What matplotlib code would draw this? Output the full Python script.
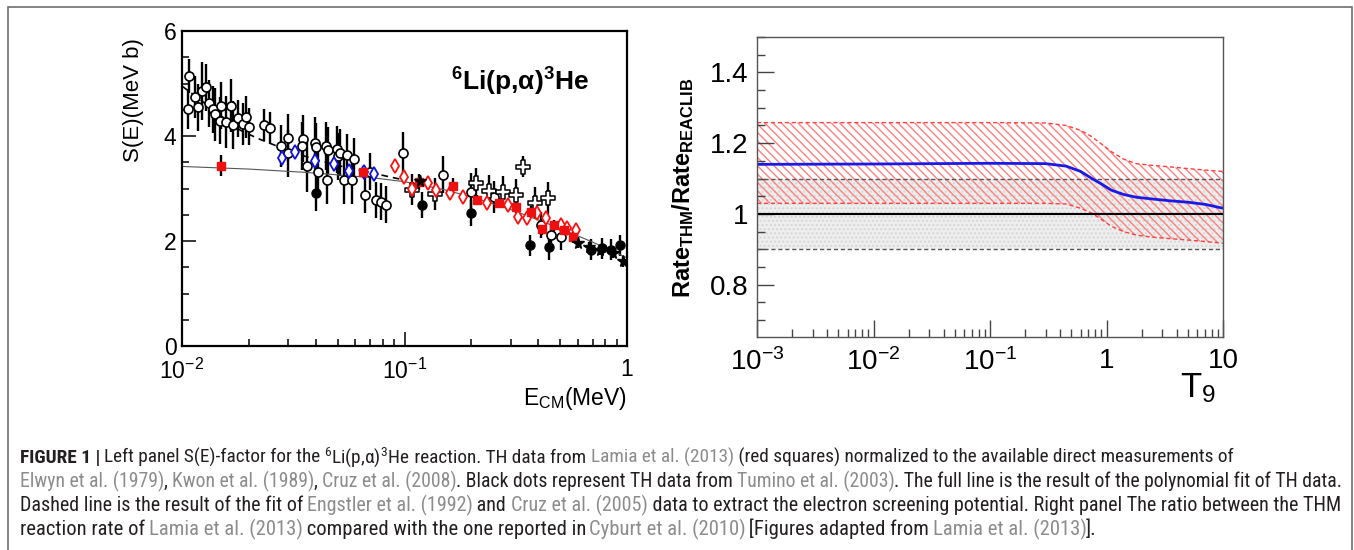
import matplotlib
matplotlib.use("Agg")
import matplotlib.pyplot as plt
from matplotlib import font_manager
from matplotlib.path import Path
from matplotlib.patches import Rectangle
from matplotlib.ticker import LogLocator, NullFormatter, MultipleLocator

plt.rcParams['font.family'] = ['Liberation Sans', 'DejaVu Sans']
plt.rcParams['mathtext.default'] = 'regular'
plt.rcParams['mathtext.fontset'] = 'custom'
plt.rcParams['mathtext.rm'] = 'Liberation Sans'
plt.rcParams['mathtext.it'] = 'Liberation Sans:italic'
plt.rcParams['mathtext.bf'] = 'Liberation Sans:bold'
plt.rcParams['hatch.linewidth'] = 1.0

# ---------------- left panel data: S(E) for 6Li(p,a)3He ----------------
# open circles (direct data)
e_open = [0.0106, 0.0108, 0.01144, 0.01185, 0.01235, 0.01282, 0.01319, 0.01384, 0.01409,
          0.01494, 0.01483, 0.01578, 0.01663, 0.01703, 0.01794, 0.01889, 0.01936, 0.02004,
          0.0234, 0.0249, 0.0278, 0.0299, 0.0300, 0.0348, 0.0347, 0.0365, 0.0398, 0.0400,
          0.0407, 0.0443, 0.0454, 0.0450, 0.0498, 0.0500, 0.0515, 0.0533, 0.0552, 0.0581,
          0.0595, 0.0663, 0.0698, 0.0743, 0.0787, 0.0829, 0.0983, 0.1486, 0.1996, 0.2525,
          0.41, 0.455, 0.505]
s_open = [4.51, 5.14, 4.74, 4.55, 4.86, 4.93, 4.62, 4.51, 4.41,
          4.58, 4.29, 4.27, 4.58, 4.21, 4.34, 4.22, 4.37, 4.18,
          4.21, 4.15, 3.81, 3.97, 3.67, 3.95, 3.81, 3.43, 3.87, 3.80,
          3.31, 3.81, 3.73, 3.16, 3.75, 3.61, 3.68, 3.16, 3.64, 3.16,
          3.57, 2.88, 3.32, 2.78, 2.75, 2.69, 3.67, 3.26, 2.94, 2.84,
          2.30, 2.11, 2.07]
d_open = [0.38, 0.33, 0.40, 0.45, 0.55, 0.45, 0.45, 0.45, 0.50,
          0.45, 0.45, 0.50, 0.50, 0.45, 0.35, 0.40, 0.40, 0.35,
          0.30, 0.30, 0.40, 0.45, 0.45, 0.45, 0.45, 0.50, 0.50, 0.45,
          0.45, 0.45, 0.45, 0.45, 0.45, 0.45, 0.45, 0.45, 0.40, 0.45,
          0.40, 0.35, 0.35, 0.35, 0.35, 0.35, 0.40, 0.35, 0.35, 0.30,
          0.25, 0.25, 0.25]

# black dots (Tumino 2003 TH data)
e_tum = [0.0402, 0.120, 0.1996, 0.3656, 0.447, 0.689, 0.769, 0.847, 0.933]
s_tum = [2.92, 2.69, 2.53, 1.92, 1.89, 1.83, 1.86, 1.83, 1.92]
d_tum = [0.35, 0.25, 0.25, 0.20, 0.25, 0.20, 0.20, 0.20, 0.20]

# red squares (Lamia 2013 TH data)
e_thm = [0.01494, 0.0649, 0.1161, 0.1657, 0.2117, 0.266, 0.316, 0.37, 0.417, 0.471, 0.522, 0.569]
s_thm = [3.43, 3.32, 3.13, 3.05, 2.78, 2.72, 2.64, 2.56, 2.22, 2.30, 2.21, 2.07]
d_thm = [0.20, 0.10, 0.15, 0.15, 0.10, 0.10, 0.10, 0.10, 0.10, 0.10, 0.10, 0.10]

# red open diamonds
e_rdia = [0.0902, 0.0994, 0.1083, 0.1279, 0.138, 0.160, 0.183, 0.2357, 0.293, 0.324,
          0.357, 0.393, 0.432, 0.505, 0.54, 0.589]
s_rdia = [3.43, 3.22, 3.00, 3.10, 2.97, 2.92, 2.84, 2.73, 2.68, 2.46,
          2.43, 2.53, 2.43, 2.30, 2.24, 2.21]
d_rdia = [0.12, 0.12, 0.12, 0.10, 0.10, 0.10, 0.10, 0.10, 0.10, 0.10,
          0.10, 0.10, 0.10, 0.10, 0.10, 0.10]

# blue open diamonds
e_bdia = [0.0281, 0.0323, 0.0397, 0.0481, 0.0561, 0.0656, 0.0733]
s_bdia = [3.59, 3.69, 3.53, 3.47, 3.34, 3.32, 3.28]
d_bdia = [0.12, 0.10, 0.12, 0.12, 0.12, 0.10, 0.10]

# open crosses
e_cross = [0.108, 0.137, 0.209, 0.241, 0.278, 0.316, 0.341, 0.385, 0.44]
s_cross = [2.98, 2.90, 3.10, 2.96, 2.94, 2.88, 3.41, 2.72, 2.82]
d_cross = [0.30, 0.30, 0.30, 0.30, 0.30, 0.30, 0.20, 0.30, 0.30]

# stars
e_star = [0.117, 0.60, 0.676, 0.76, 0.863, 0.956]
s_star = [3.14, 1.97, 1.89, 1.83, 1.77, 1.61]
d_star = [0.12, 0.10, 0.10, 0.10, 0.10, 0.10]

# polynomial fit of TH data (full line) and screening fit (dashed)
e_fit = [0.01, 0.02, 0.035, 0.05, 0.07, 0.1, 0.15, 0.2, 0.3, 0.4, 0.5, 0.7, 1.0]
s_fit = [3.42, 3.37, 3.31, 3.26, 3.21, 3.13, 2.98, 2.84, 2.60, 2.40, 2.24, 1.98, 1.68]
e_scr = [0.01, 0.012, 0.015, 0.0183, 0.022, 0.027, 0.033, 0.04, 0.05, 0.065, 0.08, 0.1]
s_scr = [4.95, 4.70, 4.38, 4.11, 3.95, 3.80, 3.66, 3.55, 3.44, 3.33, 3.25, 3.16]

# ---------------- right panel data: rate ratio vs T9 ----------------
t9 = [0.001, 0.01, 0.1, 0.3, 0.45, 0.6, 0.75, 0.9, 1.1, 1.4, 1.8, 2.5, 3.5, 5, 7, 10]
ratio_hi = [1.258, 1.258, 1.258, 1.257, 1.250, 1.236, 1.218, 1.198, 1.176, 1.155, 1.142,
            1.137, 1.133, 1.128, 1.124, 1.120]
ratio_lo = [1.030, 1.030, 1.030, 1.030, 1.028, 1.016, 1.002, 0.985, 0.965, 0.950, 0.940,
            0.934, 0.930, 0.926, 0.922, 0.917]
ratio = [1.140, 1.141, 1.143, 1.142, 1.135, 1.120, 1.100, 1.085, 1.067, 1.055, 1.047,
         1.042, 1.037, 1.033, 1.027, 1.016]
t9_edges = [0.001, 10]
reaclib_lo, reaclib_hi = 0.9, 1.1

W, H = 1354, 550
fig = plt.figure(figsize=(W / 100, H / 100), dpi=100)
fig.patch.set_facecolor('white')

# ------------- left panel -------------
axL = fig.add_axes([182 / W, 1 - 346 / H, 445 / W, 315 / H])
axL.set_xscale('log')

err_kw = dict(ecolor='k', elinewidth=1.7, capsize=0, linestyle='none')
axL.errorbar(e_open, s_open, yerr=d_open, marker='o', ms=6.5, mfc='white', mec='k', mew=1.2, **err_kw)

plus = Path([(-0.3, 1), (0.3, 1), (0.3, 0.3), (1, 0.3), (1, -0.3), (0.3, -0.3), (0.3, -1),
             (-0.3, -1), (-0.3, -0.3), (-1, -0.3), (-1, 0.3), (-0.3, 0.3), (-0.3, 1)])
axL.errorbar(e_cross, s_cross, yerr=d_cross, marker=plus, ms=9.5, mfc='white', mec='k', mew=1.1, **err_kw)
axL.errorbar(e_bdia, s_bdia, yerr=d_bdia, marker='d', ms=7.5, mfc='white', mec='#1010e0', mew=1.3, **err_kw)
axL.errorbar(e_rdia, s_rdia, yerr=d_rdia, marker='d', ms=7.5, mfc='white', mec='#ff1010', mew=1.3, **err_kw)
axL.errorbar(e_tum, s_tum, yerr=d_tum, marker='o', ms=6.5, mfc='k', mec='k', **err_kw)
axL.errorbar(e_thm, s_thm, yerr=d_thm, marker='s', ms=6, mfc='#ee1010', mec='#ee1010', **err_kw)
axL.errorbar(e_star, s_star, yerr=d_star, marker='*', ms=8.5, mfc='k', mec='k', **err_kw)

axL.plot(e_fit, s_fit, color='#555555', lw=0.8)
axL.plot(e_scr, s_scr, color='k', lw=1.2, dashes=(4, 3))

axL.set_xlim(0.01, 1)
axL.set_ylim(0, 6)
axL.set_yticks([0, 2, 4, 6])
axL.yaxis.set_minor_locator(MultipleLocator(0.5))
axL.set_xticks([0.01, 0.1, 1])
axL.set_xticklabels([r'$10^{-2}$', r'$10^{-1}$', '1'])
axL.xaxis.set_minor_locator(LogLocator(base=10, subs=range(2, 10)))
axL.xaxis.set_minor_formatter(NullFormatter())
axL.tick_params(which='both', direction='in', top=False, right=False, width=1.1, labelsize=16.5)
axL.tick_params(which='major', length=10)
axL.tick_params(which='minor', length=5)
axL.tick_params(axis='y', pad=4)
axL.tick_params(axis='x', pad=9)
for sp in axL.spines.values():
    sp.set_linewidth(1.6)

axL.text(0.76, 0.84, r'$^{6}$Li(p,α)$^{3}$He', transform=axL.transAxes, fontsize=19,
         fontweight='bold', ha='center', va='center')
fig.text(133 / W, 1 - 100 / H, 'S(E)(MeV b)', rotation=90, fontsize=16, ha='center', va='center')
fig.text(627 / W, 1 - 398 / H, r'E$_{CM}$(MeV)', fontsize=16.5, ha='right', va='center')

# ------------- right panel -------------
axR = fig.add_axes([757 / W, 1 - 337 / H, 466 / W, 300 / H])
axR.set_xscale('log')
axR.fill_between(t9_edges, reaclib_lo, reaclib_hi, facecolor='#eeeeee', edgecolor='#d6d6d6',
                 hatch='....', lw=0)
axR.fill_between(t9, ratio_lo, ratio_hi, facecolor='none', edgecolor='#ff8080',
                 hatch='\\' * 4, lw=0)
axR.plot(t9_edges, [reaclib_lo] * 2, color='#555555', lw=1, dashes=(3, 2))
axR.plot(t9_edges, [reaclib_hi] * 2, color='#555555', lw=1, dashes=(3, 2))
axR.plot(t9, ratio_hi, color='#ff4040', lw=1, dashes=(3, 2))
axR.plot(t9, ratio_lo, color='#ff4040', lw=1, dashes=(3, 2))
axR.plot(t9_edges, [1, 1], color='k', lw=1.5)
axR.plot(t9, ratio, color='#1a1ae6', lw=2)

axR.set_xlim(1e-3, 10)
axR.set_ylim(0.652, 1.5)
axR.set_yticks([0.8, 1.0, 1.2, 1.4])
axR.set_yticklabels(['0.8', '1', '1.2', '1.4'])
axR.yaxis.set_minor_locator(MultipleLocator(0.05))
axR.set_xticks([1e-3, 1e-2, 1e-1, 1, 10])
axR.set_xticklabels([r'$10^{-3}$', r'$10^{-2}$', r'$10^{-1}$', '1', '10'])
axR.xaxis.set_minor_locator(LogLocator(base=10, subs=range(2, 10)))
axR.xaxis.set_minor_formatter(NullFormatter())
axR.tick_params(which='both', direction='in', top=False, right=False, width=1.0,
                color='#444444', labelsize=20)
axR.tick_params(which='major', length=12)
axR.tick_params(which='minor', length=6)
axR.tick_params(axis='y', pad=6)
axR.tick_params(axis='x', pad=8)
for sp in axR.spines.values():
    sp.set_linewidth(1.0)
    sp.set_color('#555555')

fig.text(683 / W, 1 - 188 / H, r'Rate$_{THM}$/Rate$_{REACLIB}$', rotation=90, fontsize=17,
         fontweight='bold', ha='center', va='center')
fig.text(1198 / W, 1 - 388 / H, r'T$_{9}$', fontsize=25, ha='center', va='center')

# ------------- caption -------------
names = {f.name for f in font_manager.fontManager.ttflist}
narrow = [n for n in ('Liberation Sans Narrow', 'Roboto Condensed', 'Open Sans Condensed',
                      'Noto Sans Condensed') if n in names]
cap_stretch = 'normal'
if narrow:
    cap_family = [narrow[0]]
elif any(f.name == 'DejaVu Sans' and f.stretch == 'condensed' for f in font_manager.fontManager.ttflist):
    cap_family, cap_stretch = ['DejaVu Sans'], 'condensed'
else:
    cap_family = ['Liberation Sans']
ink, cite = '#231f20', '#8c8c8c'
renderer = fig.canvas.get_renderer()


def text_w(s, size, weight):
    t = fig.text(0, 0, s, fontsize=size, fontweight=weight, family=cap_family, fontstretch=cap_stretch)
    w = t.get_window_extent(renderer).width
    t.remove()
    return w


def seg_width(s, size, weight):
    return text_w('x' + s + 'x', size, weight) - text_w('xx', size, weight)


def caption_line(ypix, segs, xend, x0=20, size=13):
    widths = [seg_width(s, size, wt) for s, c, wt in segs]
    scale = (xend - x0) / sum(widths)
    size2 = size * scale
    x = x0
    for (s, c, wt), w in zip(segs, widths):
        fig.text(x / W, 1 - ypix / H, s, fontsize=size2, fontweight=wt, color=c,
                 family=cap_family, fontstretch=cap_stretch, ha='left', va='baseline')
        x += w * scale


caption = [
    (463, [('FIGURE 1 | ', ink, 'bold'), ('Left panel S(E)-factor for the ', ink, 'normal'),
           (r'$^{6}$Li(p,$\alpha$)$^{3}$He', ink, 'normal'), (' reaction. TH data from ', ink, 'normal'),
           ('Lamia et al. (2013)', cite, 'normal'),
           (' (red squares) normalized to the available direct measurements of', ink, 'normal')], 1233),
    (487, [('Elwyn et al. (1979)', cite, 'normal'), (', ', ink, 'normal'),
           ('Kwon et al. (1989)', cite, 'normal'), (', ', ink, 'normal'),
           ('Cruz et al. (2008)', cite, 'normal'), ('. Black dots represent TH data from ', ink, 'normal'),
           ('Tumino et al. (2003)', cite, 'normal'),
           ('. The full line is the result of the polynomial fit of TH data.', ink, 'normal')], 1341),
    (511, [('Dashed line is the result of the fit of ', ink, 'normal'),
           ('Engstler et al. (1992)', cite, 'normal'), (' and ', ink, 'normal'),
           ('Cruz et al. (2005)', cite, 'normal'),
           (' data to extract the electron screening potential. Right panel The ratio between the THM',
            ink, 'normal')], 1338),
    (535, [('reaction rate of ', ink, 'normal'), ('Lamia et al. (2013)', cite, 'normal'),
           (' compared with the one reported in ', ink, 'normal'), ('Cyburt et al. (2010)', cite, 'normal'),
           (' [Figures adapted from ', ink, 'normal'), ('Lamia et al. (2013)', cite, 'normal'),
           (')].'[1:], ink, 'normal')], 1096),
]
for ypix, segs, xend in caption:
    caption_line(ypix, segs, xend)

# outer frame
fig.patches.append(Rectangle((8 / W, -0.05), (1352 - 8) / W, 1.05 - 6.7 / H, transform=fig.transFigure,
                             fill=False, edgecolor='#6e6e6e', lw=1.2))

fig.savefig('out.png', dpi=100, facecolor='white')
